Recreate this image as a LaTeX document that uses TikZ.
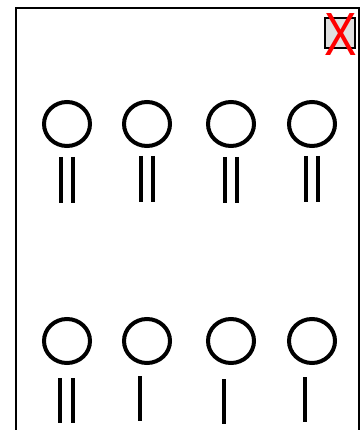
\documentclass[tikz,border=0pt]{standalone}
\usepackage{fontspec}
\setsansfont{Liberation Sans}
\usepackage{tikz}
\usetikzlibrary{positioning, calc, shapes.geometric}
\definecolor{boxGray}{HTML}{e0e0e0}
\definecolor{closeRed}{HTML}{ff0000}

\begin{document}
\begin{tikzpicture}[x=1pt, y=-1pt, bulb/.style={draw, ellipse, line width=4pt, minimum width=46pt, minimum height=44pt, inner sep=0pt},bar/.style={line width=4.5pt},frm/.style={line width=2.5pt}]
\useasboundingbox (0,0) rectangle (362,430);
\draw[frm] (16,432) -- (16,8) -- (359,8) -- (359,432);
% close button
\node[draw, frm, fill=boxGray, minimum size=30pt, inner sep=0pt] (cbox) at (340,33) {};
\node[font=\sffamily\fontsize{61}{61}\selectfont, text=closeRed, xscale=0.8, inner sep=0pt] (cx) at (341,35) {X};
% top row
\node[bulb] (t1) at (67,124) {};
\node[bulb, right=30pt of t1] (t2) {};
\node[bulb, right=34pt of t2] (t3) {};
\node[bulb, right=31pt of t3] (t4) {};
% bottom row
\node[bulb] (b1) at (67,341) {};
\node[bulb, right=30pt of b1] (b2) {};
\node[bulb, right=34pt of b2] (b3) {};
\node[bulb, right=31pt of b3] (b4) {};
% bars under the top row
\draw[bar] ($(t1.south)+(-6,9)$) -- ++(0,46); \draw[bar] ($(t1.south)+(6,9)$) -- ++(0,46);
\draw[bar] ($(t2.south)+(-6,8)$) -- ++(0,46); \draw[bar] ($(t2.south)+(6,8)$) -- ++(0,46);
\draw[bar] ($(t3.south)+(-6,9)$) -- ++(0,46); \draw[bar] ($(t3.south)+(6,9)$) -- ++(0,46);
\draw[bar] ($(t4.south)+(-6,8)$) -- ++(0,46); \draw[bar] ($(t4.south)+(6,8)$) -- ++(0,46);
% bars under the bottom row
\draw[bar] ($(b1.south)+(-7,13)$) -- ++(0,45); \draw[bar] ($(b1.south)+(6,13)$) -- ++(0,45);
\draw[bar] ($(b2.south)+(-7,11)$) -- ++(0,45);
\draw[bar] ($(b3.south)+(-7,14)$) -- ++(0,45);
\draw[bar] ($(b4.south)+(-7,12)$) -- ++(0,45);
\end{tikzpicture}
\end{document}
